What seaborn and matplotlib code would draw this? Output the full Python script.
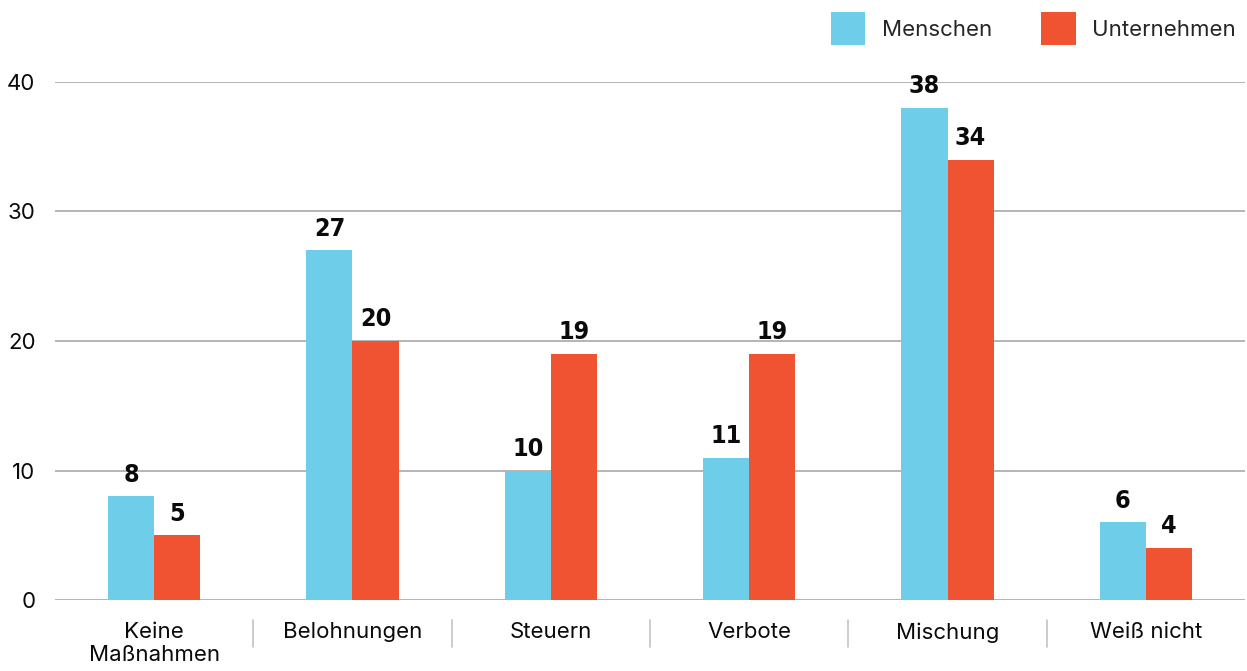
import matplotlib
matplotlib.use('Agg')
import matplotlib.pyplot as plt
import matplotlib.transforms as mtransforms
import seaborn as sns
import pandas as pd

categories = ['Keine\nMaßnahmen', 'Belohnungen', 'Steuern', 'Verbote', 'Mischung', 'Weiß nicht']
menschen = [8, 27, 10, 11, 38, 6]
unternehmen = [5, 20, 19, 19, 34, 4]
series = ['Menschen', 'Unternehmen']
yticks = [0, 10, 20, 30, 40]

palette = {'Menschen': '#6ECDE9', 'Unternehmen': '#F05331'}

df = pd.DataFrame({
    'Kategorie': categories * 2,
    'Wert': menschen + unternehmen,
    'Gruppe': [series[0]] * len(categories) + [series[1]] * len(categories),
})

sns.set_theme(style='white')
plt.rcParams['font.family'] = ['Inter', 'DejaVu Sans']

fig = plt.figure(figsize=(12.47, 6.71), dpi=100)
ax = fig.add_axes([0.0441, 0.1058, 0.9543, 0.772])

for y in yticks:
    ax.axhline(y, color='#b4b4b4', linewidth=1.4, zorder=0)

sns.barplot(data=df, x='Kategorie', y='Wert', hue='Gruppe', hue_order=series,
            order=categories, palette=palette, width=0.464, saturation=1,
            linewidth=0, ax=ax, zorder=2)

# condensed bold numbers above bars
for cont in ax.containers:
    ax.bar_label(cont, padding=7, fontsize=18, fontweight='bold',
                 family='DejaVu Sans', fontstretch='condensed', color='#0a0a0a')

ax.set_xlim(-0.5, len(categories) - 0.5)
ax.set_ylim(0, 40)
ax.set_yticks(yticks)
ax.set_xlabel('')
ax.set_ylabel('')
for s in ax.spines.values():
    s.set_visible(False)
ax.tick_params(axis='y', length=0, pad=14, labelsize=16, labelcolor='#0a0a0a')
ax.tick_params(axis='x', length=0, pad=16, labelsize=16, labelcolor='#0a0a0a')

# separators between categories below the axis
trans = mtransforms.blended_transform_factory(ax.transData, ax.transAxes)
for i in range(len(categories) - 1):
    ax.plot([i + 0.5, i + 0.5], [-0.039, -0.091], color='#c4c4c4', linewidth=1.2,
            transform=trans, clip_on=False)

handles, labels = ax.get_legend_handles_labels()
ax.legend(handles, labels, loc='lower right', bbox_to_anchor=(1.0, 1.054), ncol=2,
          frameon=False, fontsize=16, handlelength=1.55, handleheight=1.9,
          handletextpad=0.75, columnspacing=2.2, borderaxespad=0)

fig.savefig('out.png', dpi=100, facecolor='white')
